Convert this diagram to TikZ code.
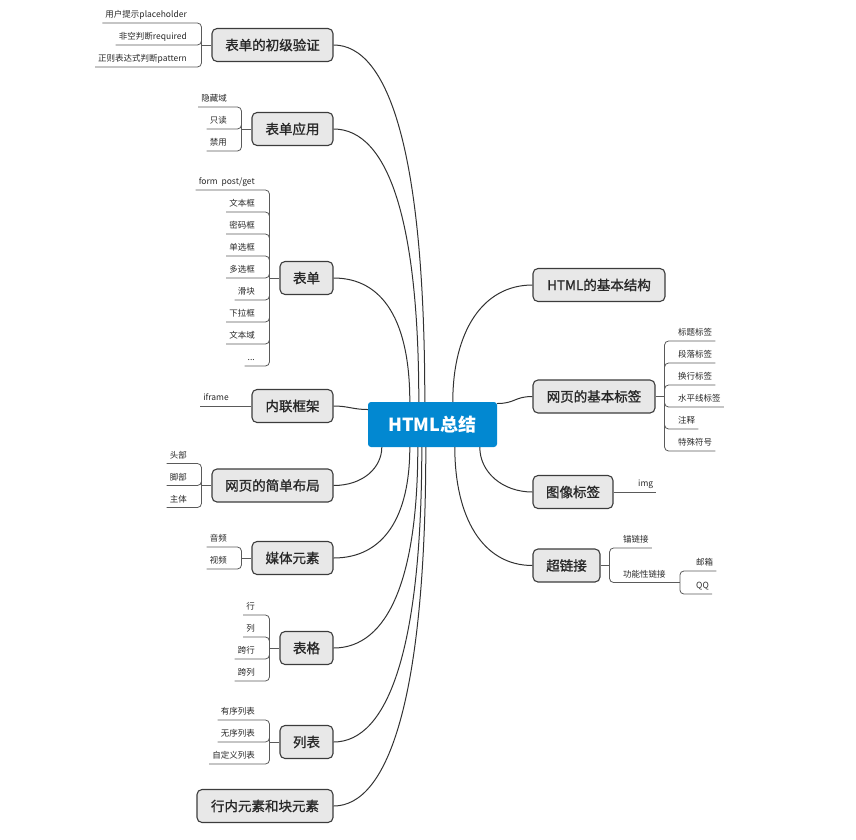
\documentclass[tikz,border=0pt]{standalone}
\usepackage{fontspec}
\setmainfont{Noto Sans CJK SC}
\newfontfamily\topicfont{Noto Sans CJK SC}[FakeBold=1.2]
\definecolor{rootblue}{RGB}{2,136,209}
\definecolor{topicfill}{RGB}{232,232,232}
\definecolor{topicborder}{RGB}{60,60,60}
\definecolor{textdark}{RGB}{40,40,40}
\definecolor{edgedark}{RGB}{50,50,50}
\definecolor{linkgray}{RGB}{90,90,90}
\begin{document}
\begin{tikzpicture}[x=1pt,y=-1pt,
  topic/.style={draw=topicborder, fill=topicfill, rounded corners=5pt, line width=1.1pt,
    minimum height=33pt, inner sep=0pt, font=\topicfont\fontsize{13.5}{15}\selectfont, text=textdark},
  root/.style={fill=rootblue, rounded corners=3pt, minimum width=129pt, minimum height=45pt,
    inner sep=0pt, font=\fontsize{18}{20}\selectfont\bfseries, text=white},
  leafL/.style={anchor=south east, inner xsep=3pt, inner ysep=3.5pt, text height=7pt, text depth=1.5pt,
    font=\fontsize{8.5}{9}\selectfont, text=textdark},
  leafR/.style={leafL, anchor=south west},
  link/.style={draw=linkgray, line width=0.8pt},
  brk/.style={link, rounded corners=4pt},
  edge/.style={draw=edgedark, line width=1pt}]
\useasboundingbox (0,0) rectangle (856,839);

% root
\node[root] (c) at (432.5,424.5) {HTML总结};

% left topics
\node[topic, minimum width=121pt] (t1) at (272.5,45) {表单的初级验证};
\node[topic, minimum width=81pt]  (t2) at (292.5,129) {表单应用};
\node[topic, minimum width=53pt]  (t3) at (306.5,278) {表单};
\node[topic, minimum width=81pt]  (t4) at (292.5,406) {内联框架};
\node[topic, minimum width=121pt] (t5) at (272.5,485.5) {网页的简单布局};
\node[topic, minimum width=81pt]  (t6) at (292.5,558) {媒体元素};
\node[topic, minimum width=53pt]  (t7) at (306.5,648) {表格};
\node[topic, minimum width=53pt]  (t8) at (306.5,742) {列表};
\node[topic, minimum width=136pt] (t9) at (265,806) {行内元素和块元素};

% right topics
\node[topic, minimum width=132pt] (r1) at (599,285) {HTML的基本结构};
\node[topic, minimum width=122pt] (r2) at (594,396.5) {网页的基本标签};
\node[topic, minimum width=80pt]  (r3) at (573,492) {图像标签};
\node[topic, minimum width=67pt]  (r4) at (566.5,565.5) {超链接};

% main edges
\draw[edge] (t1.east) .. controls +(55,0) and +(0,-250) .. ([xshift=57pt]c.north west);
\draw[edge] (t2.east) .. controls +(55,0) and +(0,-180) .. ([xshift=51pt]c.north west);
\draw[edge] (t3.east) .. controls +(50,0) and +(0,-80) .. ([xshift=42pt]c.north west);
\draw[edge] (t4.east) .. controls +(15,0) and +(-15,0) .. ([yshift=15pt]c.west);
\draw[edge] (t5.east) .. controls +(30,0) and +(0,20) .. ([xshift=14pt]c.south west);
\draw[edge] (t6.east) .. controls +(50,0) and +(0,70) .. ([xshift=42pt]c.south west);
\draw[edge] (t7.east) .. controls +(55,0) and +(0,130) .. ([xshift=50pt]c.south west);
\draw[edge] (t8.east) .. controls +(55,0) and +(0,200) .. ([xshift=54pt]c.south west);
\draw[edge] (t9.east) .. controls +(55,0) and +(0,250) .. ([xshift=58pt]c.south west);
\draw[edge] ([xshift=85pt]c.north west) .. controls +(0,-70) and +(-50,0) .. (r1.west);
\draw[edge] ([yshift=21pt]c.east) .. controls +(18,0) and +(-18,0) .. (r2.west);
\draw[edge] ([xshift=112pt]c.south west) .. controls +(0,25) and +(-30,0) .. (r3.west);
\draw[edge] ([xshift=87pt]c.south west) .. controls +(0,70) and +(-50,0) .. (r4.west);

% t1 leaves
\node[leafL] (t1a) at (190,23) {用户提示placeholder};
\node[leafL] (t1b) at (190,45) {非空判断required};
\node[leafL] (t1c) at (190,67) {正则表达式判断pattern};
\draw[link] (t1.west) -- ++(-10,0) coordinate (b1);
\foreach \l in {t1a,t1b,t1c} \draw[brk] (b1) |- (\l.south east) -- (\l.south west);

% t2 leaves
\node[leafL] (t2a) at (230,107) {隐藏域};
\node[leafL] (t2b) at (230,129) {只读};
\node[leafL] (t2c) at (230,151) {禁用};
\draw[link] (t2.west) -- ++(-10,0) coordinate (b2);
\foreach \l in {t2a,t2b,t2c} \draw[brk] (b2) |- (\l.south east) -- (\l.south west);

% t3 leaves
\node[leafL] (t3a) at (258,190) {form\ \ post/get};
\node[leafL] (t3b) at (258,212) {文本框};
\node[leafL] (t3c) at (258,234) {密码框};
\node[leafL] (t3d) at (258,256) {单选框};
\node[leafL] (t3e) at (258,278) {多选框};
\node[leafL] (t3f) at (258,300) {滑块};
\node[leafL] (t3g) at (258,322) {下拉框};
\node[leafL] (t3h) at (258,344) {文本域};
\node[leafL] (t3i) at (258,366) {...};
\draw[link] (t3.west) -- ++(-10,0) coordinate (b3);
\foreach \l in {t3a,t3b,t3c,t3d,t3e,t3f,t3g,t3h,t3i} \draw[brk] (b3) |- (\l.south east) -- (\l.south west);

% t4 leaf
\node[leafL] (t4a) at (232,406) {iframe};
\draw[link] (t4.west) -- (t4a.south east) -- (t4a.south west);

% t5 leaves
\node[leafL] (t5a) at (190,463.5) {头部};
\node[leafL] (t5b) at (190,485.5) {脚部};
\node[leafL] (t5c) at (190,507.5) {主体};
\draw[link] (t5.west) -- ++(-10,0) coordinate (b5);
\foreach \l in {t5a,t5b,t5c} \draw[brk] (b5) |- (\l.south east) -- (\l.south west);

% t6 leaves
\node[leafL] (t6a) at (230,547) {音频};
\node[leafL] (t6b) at (230,569) {视频};
\draw[link] (t6.west) -- ++(-10,0) coordinate (b6);
\foreach \l in {t6a,t6b} \draw[brk] (b6) |- (\l.south east) -- (\l.south west);

% t7 leaves
\node[leafL] (t7a) at (258,615) {行};
\node[leafL] (t7b) at (258,637) {列};
\node[leafL] (t7c) at (258,659) {跨行};
\node[leafL] (t7d) at (258,681) {跨列};
\draw[link] (t7.west) -- ++(-10,0) coordinate (b7);
\foreach \l in {t7a,t7b,t7c,t7d} \draw[brk] (b7) |- (\l.south east) -- (\l.south west);

% t8 leaves
\node[leafL] (t8a) at (258,720) {有序列表};
\node[leafL] (t8b) at (258,742) {无序列表};
\node[leafL] (t8c) at (258,764) {自定义列表};
\draw[link] (t8.west) -- ++(-10,0) coordinate (b8);
\foreach \l in {t8a,t8b,t8c} \draw[brk] (b8) |- (\l.south east) -- (\l.south west);

% r2 leaves
\node[leafR] (r2a) at (675,341) {标题标签};
\node[leafR] (r2b) at (675,363) {段落标签};
\node[leafR] (r2c) at (675,385) {换行标签};
\node[leafR] (r2d) at (675,407) {水平线标签};
\node[leafR] (r2e) at (675,429) {注释};
\node[leafR] (r2f) at (675,451) {特殊符号};
\draw[link] (r2.east) -- ++(9,0) coordinate (br2);
\foreach \l in {r2a,r2b,r2c,r2d,r2e,r2f} \draw[brk] (br2) |- (\l.south west) -- (\l.south east);

% r3 leaf
\node[leafR] (r3a) at (635,492) {img};
\draw[link] (r3.east) -- (r3a.south west) -- (r3a.south east);

% r4 leaves
\node[leafR] (r4a) at (620,548) {锚链接};
\node[leafR] (r4b) at (620,582.5) {功能性链接};
\draw[link] (r4.east) -- ++(9,0) coordinate (br4);
\foreach \l in {r4a,r4b} \draw[brk] (br4) |- (\l.south west) -- (\l.south east);
\node[leafR] (r4c) at (693,571) {邮箱};
\node[leafR] (r4d) at (693,594) {QQ};
\draw[link] (r4b.south east) -- ++(11,0) coordinate (br5);
\foreach \l in {r4c,r4d} \draw[brk] (br5) |- (\l.south west) -- (\l.south east);
\end{tikzpicture}
\end{document}
